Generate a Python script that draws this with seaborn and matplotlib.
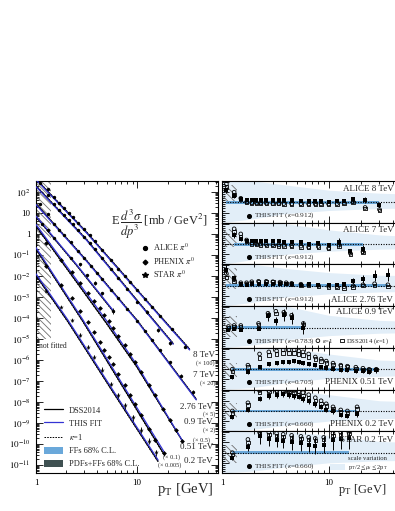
import numpy as np
import pandas as pd
import matplotlib
matplotlib.use("Agg")
import matplotlib.pyplot as plt
import seaborn as sns
from matplotlib.ticker import FixedLocator, FixedFormatter, LogLocator, NullFormatter, MultipleLocator
from matplotlib.patches import Rectangle, Patch
from matplotlib.lines import Line2D

# ---------------- data ----------------
names = ["ALICE 8 TeV", "ALICE 7 TeV", "ALICE 2.76 TeV", "ALICE 0.9 TeV",
         "PHENIX 0.51 TeV", "PHENIX 0.2 TeV", "STAR 0.2 TeV"]
kappas = ["0.912", "0.912", "0.912", "0.783", "0.705", "0.660", "0.660"]

# ALICE 8 TeV (x100)
pt_a8 = [1.1, 1.3, 1.5, 1.7, 1.9, 2.1, 2.3, 2.6, 3.0, 3.4, 3.8, 4.5, 5.5, 6.5, 7.5, 8.5, 10, 12, 14, 17, 22, 30]
y_a8 = [2.8e2, 1.31e2, 56.2, 28.6, 16.5, 10.1, 6.38, 3.41, 1.66, 0.847, 0.452, 0.177, 5.79e-2, 2.25e-2,
        1.02e-2, 5.14e-3, 2.07e-3, 7.78e-4, 3.46e-4, 1.29e-4, 3.08e-5, 4.31e-6]
rf_a8 = [1.6, 1.3, 1.15, 1.1, 1.12, 1.13, 1.14, 1.13, 1.13, 1.12, 1.11, 1.1, 1.08, 1.06, 1.05, 1.05, 1.04, 1.05, 1.08, 1.15, 1.12, 0.85]
rk_a8 = [1.9, 1.5, 1.2, 1.02, 0.98, 0.97, 0.97, 0.96, 0.95, 0.95, 0.94, 0.93, 0.93, 0.92, 0.92, 0.92, 0.92, 0.94, 0.97, 1.03, 0.75, 0.65]
rd_a8 = [1.75, 1.4, 1.15, 1.0, 0.96, 0.95, 0.95, 0.94, 0.93, 0.93, 0.92, 0.92, 0.91, 0.9, 0.9, 0.9, 0.9, 0.92, 0.95, 1.0, 0.7, 0.6]
er_a8 = [0.08, 0.06, 0.05, 0.04, 0.04, 0.04, 0.04, 0.04, 0.04, 0.04, 0.04, 0.04, 0.05, 0.05, 0.05, 0.06, 0.06, 0.07, 0.08, 0.1, 0.12, 0.15]
lpt_a8 = [1.0, 3.16, 10, 33]
fit_a8 = [380, 1.12, 2.0e-3, 3.0e-6]
dss_a8 = [407, 1.20, 2.14e-3, 3.24e-6]
k1_a8 = [427, 1.26, 2.24e-3, 3.39e-6]

# ALICE 7 TeV (x20)
pt_a7 = [1.3, 1.5, 1.7, 1.9, 2.1, 2.3, 2.6, 3.0, 3.4, 3.8, 4.5, 5.5, 6.5, 8, 10, 12.5, 16, 21]
y_a7 = [67.6, 28.1, 13.7, 7.73, 4.70, 2.94, 1.56, 0.755, 0.378, 0.193, 7.15e-2, 2.19e-2, 7.67e-3,
        2.42e-3, 6.0e-4, 1.91e-4, 2.74e-5, 6.61e-6]
rf_a7 = [1.45, 1.25, 1.15, 1.15, 1.16, 1.16, 1.15, 1.15, 1.14, 1.12, 1.1, 1.08, 1.0, 1.05, 0.95, 1.1, 0.65, 0.75]
rk_a7 = [1.75, 1.5, 1.2, 1.05, 1.02, 1.0, 0.98, 0.97, 0.96, 0.94, 0.92, 0.9, 0.85, 0.88, 0.8, 0.95, 0.55, 0.62]
rd_a7 = [1.6, 1.35, 1.12, 1.0, 0.97, 0.95, 0.93, 0.92, 0.91, 0.9, 0.88, 0.86, 0.82, 0.85, 0.77, 0.9, 0.5, 0.58]
er_a7 = [0.1, 0.08, 0.06, 0.05, 0.05, 0.05, 0.05, 0.05, 0.05, 0.06, 0.06, 0.07, 0.08, 0.1, 0.12, 0.2, 0.2, 0.25]
lpt_a7 = [1.0, 3.16, 10, 22.7]
fit_a7 = [178, 0.501, 6.31e-4, 5.62e-6]
dss_a7 = [191, 0.537, 6.76e-4, 6.03e-6]
k1_a7 = [200, 0.562, 7.08e-4, 6.31e-6]

# ALICE 2.76 TeV (x5)
pt_a2 = [1.1, 1.3, 1.5, 1.7, 1.9, 2.2, 2.6, 3.0, 3.5, 4.0, 4.5, 5.5, 6.5, 8, 10, 12, 14, 17, 21, 27, 36]
y_a2 = [27.2, 8.51, 3.10, 1.51, 0.843, 0.393, 0.158, 7.19e-2, 3.09e-2, 1.42e-2, 7.40e-3, 2.25e-3, 8.89e-4,
        2.65e-4, 7.23e-5, 2.31e-5, 8.99e-6, 2.95e-6, 8.18e-7, 1.82e-7, 2.95e-8]
rf_a2 = [1.8, 1.4, 1.1, 1.05, 1.08, 1.1, 1.1, 1.08, 1.1, 1.08, 1.1, 1.05, 1.08, 1.05, 1.02, 1.05, 1.1, 1.25, 1.35, 1.5, 1.55]
rk_a2 = [1.6, 1.3, 1.15, 1.15, 1.2, 1.22, 1.22, 1.2, 1.18, 1.15, 1.12, 1.08, 1.05, 1.02, 0.98, 0.96, 0.95, 1.0, 1.05, 1.1, 1.05]
rd_a2 = [1.4, 1.2, 1.08, 1.1, 1.15, 1.18, 1.2, 1.18, 1.15, 1.12, 1.08, 1.02, 1.0, 0.97, 0.93, 0.92, 0.9, 0.95, 1.0, 1.02, 0.98]
er_a2 = [0.12, 0.08, 0.06, 0.05, 0.05, 0.05, 0.05, 0.05, 0.05, 0.05, 0.06, 0.06, 0.06, 0.07, 0.08, 0.08, 0.1, 0.12, 0.15, 0.18, 0.2]
lpt_a2 = [1.0, 3.16, 10, 38.4]
fit_a2 = [25.1, 5.01e-2, 7.08e-5, 1.26e-8]
dss_a2 = [26.9, 5.37e-2, 7.59e-5, 1.35e-8]
k1_a2 = [28.2, 5.62e-2, 7.94e-5, 1.41e-8]

# ALICE 0.9 TeV (x2)
pt_a09 = [1.15, 1.3, 1.5, 2.2, 2.7, 3.2, 3.8, 4.5, 5.8]
y_a09 = [2.84, 1.49, 0.619, 7.26e-2, 3.56e-2, 1.07e-2, 4.62e-3, 1.51e-3, 2.26e-4]
rf_a09 = [0.9, 0.95, 0.9, 0.95, 1.55, 1.3, 1.6, 1.45, 1.0]
rk_a09 = [1.05, 1.1, 1.1, 1.2, 1.7, 1.8, 1.75, 1.6, 1.2]
rd_a09 = [1.0, 1.05, 1.05, 1.15, 1.65, 1.7, 1.7, 1.55, 1.15]
er_a09 = [0.08, 0.08, 0.08, 0.1, 0.15, 0.15, 0.18, 0.2, 0.3]
lpt_a09 = [1.0, 2.51, 5.92]
fit_a09 = [7.08, 3.55e-2, 2.0e-4]
dss_a09 = [6.61, 3.31e-2, 1.86e-4]
k1_a09 = [6.31, 3.16e-2, 1.78e-4]

# PHENIX 0.51 TeV (x0.5)
pt_p5 = [1.25, 1.75, 2.25, 2.75, 3.25, 3.75, 4.25, 4.75, 5.25, 5.75, 6.5, 7.5, 8.5, 9.5, 11, 13, 15, 18, 21, 24, 28]
y_p5 = [0.390, 6.05e-2, 1.51e-2, 4.60e-3, 1.58e-3, 6.44e-4, 2.84e-4, 1.39e-4, 6.93e-5, 3.51e-5, 1.44e-5,
        5.07e-6, 1.95e-6, 8.43e-7, 2.64e-7, 6.52e-8, 2.07e-8, 4.67e-9, 1.32e-9, 4.43e-10, 1.39e-10]
rf_p5 = [0.6, 0.85, 1.1, 1.25, 1.3, 1.35, 1.35, 1.38, 1.35, 1.3, 1.25, 1.2, 1.1, 1.05, 1.0, 0.95, 0.95, 0.92, 0.9, 0.88, 0.95]
rk_p5 = [1.0, 1.2, 1.75, 1.85, 1.9, 1.95, 1.95, 1.95, 1.9, 1.85, 1.75, 1.6, 1.5, 1.4, 1.3, 1.2, 1.15, 1.1, 1.05, 1.0, 1.0]
rd_p5 = [0.9, 1.1, 1.55, 1.7, 1.75, 1.8, 1.8, 1.8, 1.75, 1.7, 1.6, 1.5, 1.4, 1.3, 1.22, 1.15, 1.1, 1.05, 1.0, 0.97, 0.98]
er_p5 = [0.1, 0.08, 0.06, 0.06, 0.06, 0.06, 0.06, 0.06, 0.06, 0.07, 0.07, 0.07, 0.08, 0.08, 0.09, 0.1, 0.1, 0.12, 0.12, 0.15, 0.15]
lpt_p5 = [1.0, 4.93, 10, 28.5]
fit_p5 = [2.82, 7.94e-5, 5.62e-7, 1.26e-10]
dss_p5 = [2.40, 6.03e-5, 4.57e-7, 1.23e-10]
k1_p5 = [2.24, 5.62e-5, 4.27e-7, 1.20e-10]

# PHENIX 0.2 TeV (x0.1)
pt_p2 = [1.25, 1.75, 2.25, 2.75, 3.25, 3.75, 4.25, 4.75, 5.25, 5.75, 6.5, 7.5, 8.5, 9.5, 11, 13, 15, 18.5]
y_p2 = [2.90e-2, 3.70e-3, 8.75e-4, 2.17e-4, 6.12e-5, 2.06e-5, 7.57e-6, 3.04e-6, 1.36e-6, 6.22e-7, 2.24e-7,
        6.61e-8, 2.22e-8, 8.02e-9, 2.40e-9, 5.26e-10, 1.61e-10, 3.54e-11]
rf_p2 = [0.68, 1.05, 1.6, 1.75, 1.8, 1.85, 1.8, 1.75, 1.7, 1.6, 1.5, 1.35, 1.2, 1.05, 0.98, 0.8, 0.75, 0.85]
rk_p2 = [1.0, 1.4, 2.0, 2.0, 2.0, 2.0, 2.0, 2.0, 1.95, 1.9, 1.8, 1.65, 1.5, 1.35, 1.2, 1.05, 1.0, 1.2]
rd_p2 = [0.9, 1.3, 1.9, 1.95, 1.95, 1.95, 1.92, 1.88, 1.82, 1.75, 1.65, 1.5, 1.38, 1.25, 1.1, 0.95, 0.9, 1.1]
er_p2 = [0.1, 0.08, 0.08, 0.08, 0.08, 0.08, 0.08, 0.08, 0.08, 0.09, 0.09, 0.1, 0.1, 0.12, 0.12, 0.15, 0.15, 0.2]
lpt_p2 = [1.0, 2.92, 18.5]
fit_p2 = [0.224, 7.94e-5, 4.17e-11]
dss_p2 = [0.191, 6.76e-5, 3.16e-11]
k1_p2 = [0.178, 6.31e-5, 2.95e-11]

# STAR 0.2 TeV (x0.005)
pt_st = [1.25, 1.75, 2.25, 2.75, 3.25, 3.75, 4.5, 5.5, 6.5, 7.5, 9, 11, 13, 15.5]
y_st = [2.00e-3, 3.37e-4, 7.78e-5, 1.58e-5, 4.33e-6, 1.43e-6, 3.52e-7, 7.52e-8, 2.08e-8, 6.95e-9,
        1.87e-9, 4.83e-10, 1.43e-10, 4.02e-11]
rf_st = [0.75, 1.3, 1.8, 1.65, 1.6, 1.55, 1.5, 1.45, 1.4, 1.35, 1.4, 1.6, 1.65, 1.7]
rk_st = [1.0, 1.65, 2.0, 2.0, 1.95, 1.9, 1.85, 1.8, 1.75, 1.7, 1.75, 1.95, 2.0, 2.0]
rd_st = [0.9, 1.5, 1.95, 1.9, 1.85, 1.8, 1.75, 1.7, 1.65, 1.6, 1.65, 1.85, 1.9, 1.95]
er_st = [0.15, 0.15, 0.2, 0.2, 0.2, 0.22, 0.25, 0.25, 0.28, 0.3, 0.3, 0.3, 0.3, 0.3]
lpt_st = [1.0, 2.07, 5.78, 16.1]
fit_st = [1.26e-2, 7.94e-5, 3.55e-8, 1.74e-11]
dss_st = [1.07e-2, 6.76e-5, 3.02e-8, 1.51e-11]
k1_st = [1.00e-2, 6.31e-5, 2.82e-8, 1.41e-11]

# scale-variation band of the ratio panels
sv_pt = [1, 2, 4, 10, 30, 63]
sv_hi = [[2.05, 2.05, 1.85, 1.6, 1.45, 1.4], [2.05, 2.05, 2.0, 1.7, 1.45, 1.37],
         [2.05, 2.05, 1.85, 1.65, 1.52, 1.5], [2.05, 2.05, 2.05, 1.6, 1.35, 1.3],
         [2.05, 2.05, 2.05, 1.75, 1.45, 1.4], [2.05, 2.05, 2.05, 1.8, 1.5, 1.45],
         [2.05, 2.05, 2.05, 1.85, 1.55, 1.5]]
sv_lo = [[0.0, 0.2, 0.45, 0.6, 0.7, 0.72], [0.0, 0.25, 0.5, 0.65, 0.75, 0.78],
         [0.0, 0.2, 0.45, 0.6, 0.7, 0.72], [0.0, 0.15, 0.4, 0.6, 0.72, 0.75],
         [0.0, 0.1, 0.35, 0.55, 0.65, 0.7], [0.0, 0.1, 0.3, 0.5, 0.62, 0.65],
         [0.0, 0.1, 0.3, 0.5, 0.6, 0.62]]
hatch_lo = [1.05, 0.88, 0.84, 0.55, 0.64, 0.6, 0.49]
hatch_hi = [1.87, 1.76, 1.85, 1.56, 1.31, 1.41, 1.39]
ff_half = [0.07, 0.07, 0.07, 0.07, 0.07, 0.07, 0.07]

sets = [
    dict(pt=pt_a8, y=y_a8, rf=rf_a8, rk=rk_a8, rd=rd_a8, er=er_a8, lpt=lpt_a8, fit=fit_a8, dss=dss_a8, k1=k1_a8, m="o"),
    dict(pt=pt_a7, y=y_a7, rf=rf_a7, rk=rk_a7, rd=rd_a7, er=er_a7, lpt=lpt_a7, fit=fit_a7, dss=dss_a7, k1=k1_a7, m="o"),
    dict(pt=pt_a2, y=y_a2, rf=rf_a2, rk=rk_a2, rd=rd_a2, er=er_a2, lpt=lpt_a2, fit=fit_a2, dss=dss_a2, k1=k1_a2, m="o"),
    dict(pt=pt_a09, y=y_a09, rf=rf_a09, rk=rk_a09, rd=rd_a09, er=er_a09, lpt=lpt_a09, fit=fit_a09, dss=dss_a09, k1=k1_a09, m="o"),
    dict(pt=pt_p5, y=y_p5, rf=rf_p5, rk=rk_p5, rd=rd_p5, er=er_p5, lpt=lpt_p5, fit=fit_p5, dss=dss_p5, k1=k1_p5, m="D"),
    dict(pt=pt_p2, y=y_p2, rf=rf_p2, rk=rk_p2, rd=rd_p2, er=er_p2, lpt=lpt_p2, fit=fit_p2, dss=dss_p2, k1=k1_p2, m="D"),
    dict(pt=pt_st, y=y_st, rf=rf_st, rk=rk_st, rd=rd_st, er=er_st, lpt=lpt_st, fit=fit_st, dss=dss_st, k1=k1_st, m="*"),
]

# ---------------- style ----------------
sns.set_theme(style="ticks")
plt.rcParams.update({
    "mathtext.fontset": "stix",
    "hatch.linewidth": 0.6,
    "axes.linewidth": 0.8,
    "axes.edgecolor": "black",
    "xtick.color": "black", "ytick.color": "black",
    "xtick.direction": "in", "ytick.direction": "in",
})
plt.rcParams["font.family"] = ["Liberation Serif", "DejaVu Serif"]

FIT_C = "#3434d4"
FF_C = "#6aa8da"
PDF_C = "#3f5152"
SV_C = "#e2eef8"
HATCH_C = "#6e6e6e"

W, H = 395, 511
fig = plt.figure(figsize=(W / 100, H / 100), dpi=100)


def fxy(px, py):
    return px / W, 1 - py / H


XMAX = 63
# ---------------- left panel ----------------
l0, b0 = fxy(36, 473)
axL = fig.add_axes([l0, b0, (218 - 36) / W, (473 - 181) / H])
axL.set_xscale("log")
axL.set_yscale("log")
axL.set_xlim(1, XMAX)
axL.set_ylim(10 ** -11.38, 10 ** 2.52)

axL.add_patch(Rectangle((1.0, 1e-5), 0.4, 10 ** 2.6, fill=False, hatch="\\\\\\\\\\",
                        edgecolor=HATCH_C, lw=0, zorder=1))
axL.text(1.06, 10 ** -5.15, "not fitted", fontsize=5.5, ha="left", va="top")

for s in sets:
    dl = pd.DataFrame({"pt": s["lpt"], "fit": s["fit"], "dss": s["dss"], "k1": s["k1"]})
    sns.lineplot(data=dl, x="pt", y="k1", ax=axL, color="black", lw=0.7, linestyle=(0, (1.6, 1.2)),
                 estimator=None, sort=False, legend=False, zorder=3)
    sns.lineplot(data=dl, x="pt", y="dss", ax=axL, color="black", lw=0.9,
                 estimator=None, sort=False, legend=False, zorder=3)
    sns.lineplot(data=dl, x="pt", y="fit", ax=axL, color=FIT_C, lw=0.9,
                 estimator=None, sort=False, legend=False, zorder=4)
    dd = pd.DataFrame({"pt": s["pt"], "y": s["y"]})
    dd["e"] = dd["y"] * np.array(s["er"])
    axL.errorbar(dd["pt"], dd["y"], yerr=dd["e"], fmt="none", ecolor="black", elinewidth=0.6, capsize=0, zorder=5)
    sns.scatterplot(data=dd, x="pt", y="y", ax=axL, marker=s["m"], s=6 if s["m"] != "*" else 12,
                    color="black", edgecolor="black", linewidth=0, zorder=6, legend=False)

ymaj = [10.0 ** k for k in range(2, -12, -1)]
ylab = ["$10^{2}$", "10", "1"] + ["$10^{%d}$" % k for k in range(-1, -12, -1)]
axL.yaxis.set_major_locator(FixedLocator(ymaj))
axL.yaxis.set_major_formatter(FixedFormatter(ylab))
axL.yaxis.set_minor_locator(LogLocator(base=10, subs=np.arange(2, 10), numticks=100))
axL.yaxis.set_minor_formatter(NullFormatter())
axL.xaxis.set_major_locator(FixedLocator([1, 10]))
axL.xaxis.set_major_formatter(FixedFormatter(["1", "10"]))
axL.xaxis.set_minor_locator(LogLocator(base=10, subs=np.arange(2, 10), numticks=100))
axL.xaxis.set_minor_formatter(NullFormatter())
axL.tick_params(which="both", direction="in", top=True, right=True, width=0.6, labelsize=6.5, pad=4)
axL.tick_params(which="major", length=5)
axL.tick_params(which="minor", length=2.5)
axL.set_xlabel("")
axL.set_ylabel("")

axL.text(0.68, 0.85, r"E$\,\dfrac{d^3\sigma}{dp^3}$ [mb / GeV$^2$]", transform=axL.transAxes,
         fontsize=9, ha="center", va="center")

# experiment legend
exp_handles = [Line2D([], [], ls="none", marker="o", ms=2.8, color="black"),
               Line2D([], [], ls="none", marker="D", ms=2.4, color="black"),
               Line2D([], [], ls="none", marker="*", ms=4, color="black")]
leg1 = axL.legend(exp_handles, [r"ALICE $\pi^0$", r"PHENIX $\pi^0$", r"STAR $\pi^0$"],
                  loc="upper left", bbox_to_anchor=((142 - 36) / 182, (473 - 242) / 292),
                  frameon=False, fontsize=6, handlelength=0.8, handletextpad=0.5,
                  labelspacing=0.25, borderpad=0, borderaxespad=0)
axL.add_artist(leg1)

th_handles = [Line2D([], [], color="black", lw=0.9),
              Line2D([], [], color=FIT_C, lw=0.9),
              Line2D([], [], color="black", lw=0.7, ls=(0, (1.6, 1.2))),
              Patch(facecolor=FF_C, edgecolor="none"),
              Patch(facecolor=PDF_C, edgecolor="none")]
axL.legend(th_handles, ["DSS2014", "THIS FIT", r"$\kappa$=1", "FFs 68% C.L.", "PDFs+FFs 68% C.L."],
           loc="lower left", bbox_to_anchor=((44 - 36) / 182, (473 - 468) / 292),
           frameon=False, fontsize=6, handlelength=2.3, handleheight=0.9, handletextpad=0.7,
           labelspacing=0.55, borderpad=0, borderaxespad=0)

# energy / scale labels
elabels = [("8 TeV", 215, 355, 6.5), ("(× 100)", 215, 363, 4.5), ("7 TeV", 215, 375, 6.5),
           ("(× 20)", 215, 383, 4.5), ("2.76 TeV", 213, 407, 6.5), ("(× 5)", 215, 414, 4.5),
           ("0.9 TeV", 213, 422, 6.5), ("(× 2)", 215, 430, 4.5), ("(× 0.5)", 210, 440, 4.5),
           ("0.51 TeV", 213, 447, 6.5), ("(× 0.1)", 180, 457, 4.5), ("(× 0.005)", 181, 465, 4.5),
           ("0.2 TeV", 213, 461, 6.5)]
for txt, px, py, fs in elabels:
    axL.text((px - 36) / 182, (473 - py) / 292, txt, transform=axL.transAxes, fontsize=fs,
             ha="right", va="center")

fig.text(*fxy(213, 490), r"p$_\mathrm{T}$ [GeV]", fontsize=10.5, ha="right", va="center")

# ---------------- right ratio panels ----------------
ph = (473 - 181) / 7
RW = 106.6 * np.log10(XMAX)
axR = []
for i in range(7):
    l, b = fxy(222, 181 + (i + 1) * ph)
    ax = fig.add_axes([l, b, RW / W, ph / H])
    axR.append(ax)

for i, (ax, s) in enumerate(zip(axR, sets)):
    ax.set_xscale("log")
    ax.set_xlim(1, XMAX)
    ax.set_ylim(0, 2.05)
    ax.fill_between(sv_pt, sv_lo[i], sv_hi[i], color=SV_C, lw=0, zorder=0)
    ax.add_patch(Rectangle((1.0, hatch_lo[i]), 0.38, hatch_hi[i] - hatch_lo[i], fill=False,
                           hatch="\\\\\\\\\\", edgecolor=HATCH_C, lw=0, zorder=1))
    ax.fill_between([s["pt"][0], s["pt"][-1]], 1 - ff_half[i], 1 + ff_half[i], color=FF_C, lw=0, zorder=2)
    ax.axhline(1, ls=(0, (1, 1.3)), color="black", lw=0.8, zorder=3)
    dr = pd.DataFrame({"pt": s["pt"], "rf": s["rf"], "rk": s["rk"], "rd": s["rd"]})
    dr["e"] = dr["rf"] * np.array(s["er"])
    ax.scatter(dr["pt"], dr["rk"], marker="o", s=7, facecolors="none", edgecolors="black", linewidths=0.6, zorder=4)
    ax.scatter(dr["pt"], dr["rd"], marker="s", s=6, facecolors="none", edgecolors="black", linewidths=0.6, zorder=4)
    ax.errorbar(dr["pt"], dr["rf"], yerr=dr["e"], fmt="none", ecolor="black", elinewidth=0.7, capsize=0, zorder=5)
    sns.scatterplot(data=dr, x="pt", y="rf", ax=ax, marker="s", s=7, color="black", edgecolor="black",
                    linewidth=0, zorder=6, legend=False)
    ax.set_xlabel("")
    ax.set_ylabel("")
    ax.xaxis.set_major_locator(FixedLocator([1, 10]))
    ax.xaxis.set_minor_locator(LogLocator(base=10, subs=np.arange(2, 10), numticks=100))
    ax.xaxis.set_minor_formatter(NullFormatter())
    ax.yaxis.set_major_locator(MultipleLocator(0.5))
    ax.yaxis.set_minor_locator(MultipleLocator(0.1))
    ax.tick_params(which="both", direction="in", top=True, right=True, width=0.6, labelleft=False,
                   labelsize=6.5, pad=4)
    ax.tick_params(which="major", length=5)
    ax.tick_params(which="minor", length=2.5)
    if i < 6:
        ax.tick_params(labelbottom=False)
    else:
        ax.xaxis.set_major_formatter(FixedFormatter(["1", "10"]))
    # THIS FIT label
    ax.scatter([0.14], [0.17], transform=ax.transAxes, marker="o", s=7, color="black", zorder=7, clip_on=False)
    ax.text(0.165, 0.17, r"THIS FIT ($\kappa$=%s)" % kappas[i], transform=ax.transAxes, fontsize=5.2,
            ha="left", va="center", zorder=7)

title_y = [0.80, 0.83, 0.15, 0.85, 0.17, 0.17, 0.78]
for i, ax in enumerate(axR):
    ax.text(0.893, title_y[i], names[i], transform=ax.transAxes, fontsize=6.5, ha="right",
            va="center", zorder=7)

# extra legend in the ALICE 0.9 TeV panel
ax4 = axR[3]
ax4.scatter([0.50], [0.17], transform=ax4.transAxes, marker="o", s=7, facecolors="none",
            edgecolors="black", linewidths=0.6, clip_on=False, zorder=7)
ax4.text(0.52, 0.17, r"$\kappa$=1", transform=ax4.transAxes, fontsize=4.8, ha="left", va="center")
ax4.scatter([0.625], [0.17], transform=ax4.transAxes, marker="s", s=6, facecolors="none",
            edgecolors="black", linewidths=0.6, clip_on=False, zorder=7)
ax4.text(0.645, 0.17, r"DSS2014 ($\kappa$=1)", transform=ax4.transAxes, fontsize=4.8, ha="left", va="center")

# scale variation legend in the STAR panel
ax7 = axR[6]
ax7.add_patch(Rectangle((0.565, 0.06), 0.075, 0.16, transform=ax7.transAxes, facecolor=SV_C,
                        edgecolor="none", zorder=6))
ax7.text(0.655, 0.34, "scale variation", transform=ax7.transAxes, fontsize=4.8, ha="left", va="center")
ax7.text(0.655, 0.13, r"p$_\mathrm{T}$/2$\leq\mu_i\leq$2p$_\mathrm{T}$", transform=ax7.transAxes,
         fontsize=4.6, ha="left", va="center")

fig.text(*fxy(338, 490), r"p$_\mathrm{T}$ [GeV]", fontsize=9, ha="left", va="center")

fig.savefig("out.png", dpi=100)
